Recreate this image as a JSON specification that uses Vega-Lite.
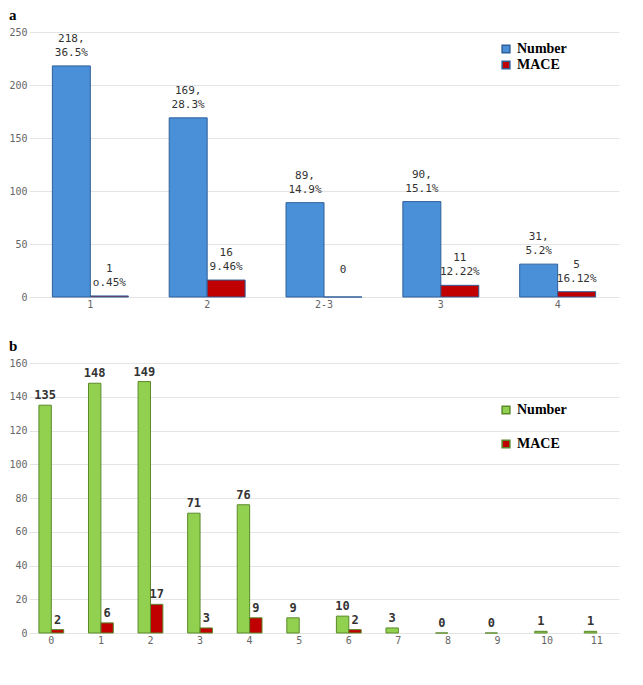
{
  "$schema": "https://vega.github.io/schema/vega-lite/v6.json",
  "background": "white",
  "padding": 8,
  "config": {
    "view": {"stroke": null},
    "axis": {"labelFont": "DejaVu Sans Mono", "labelColor": "#666", "labelFontSize": 10, "title": null, "domain": false, "ticks": false},
    "axisY": {"gridColor": "#e4e4e4"},
    "legend": {"labelFont": "Liberation Serif", "labelFontSize": 14, "labelFontWeight": "bold", "title": null, "symbolType": "square", "symbolSize": 60},
    "title": {"font": "Liberation Serif", "fontSize": 15, "fontWeight": "bold", "anchor": "start", "offset": 4},
    "concat": {"spacing": 30}
  },
  "vconcat": [
    {
      "title": "a",
      "width": 590,
      "height": 265,
      "data": {"values": [
        {"cat": "1", "series": "Number", "value": 218, "label": "218,\n36.5%"},
        {"cat": "1", "series": "MACE", "value": 1, "label": "1\no.45%"},
        {"cat": "2", "series": "Number", "value": 169, "label": "169,\n28.3%"},
        {"cat": "2", "series": "MACE", "value": 16, "label": "16\n9.46%"},
        {"cat": "2-3", "series": "Number", "value": 89, "label": "89,\n14.9%"},
        {"cat": "2-3", "series": "MACE", "value": 0, "label": "0"},
        {"cat": "3", "series": "Number", "value": 90, "label": "90,\n15.1%"},
        {"cat": "3", "series": "MACE", "value": 11, "label": "11\n12.22%"},
        {"cat": "4", "series": "Number", "value": 31, "label": "31,\n5.2%"},
        {"cat": "4", "series": "MACE", "value": 5, "label": "5\n16.12%"}
      ]},
      "encoding": {
        "x": {"field": "cat", "type": "nominal", "sort": null, "axis": {"labelAngle": 0}, "scale": {"paddingInner": 0.35, "paddingOuter": 0.2}},
        "xOffset": {"field": "series", "sort": ["Number", "MACE"]},
        "y": {"field": "value", "type": "quantitative", "scale": {"domain": [0, 250]}, "axis": {"values": [0, 50, 100, 150, 200, 250]}}
      },
      "layer": [
        {
          "mark": {"type": "bar", "stroke": "#2f5f99", "strokeWidth": 1},
          "encoding": {
            "color": {"field": "series", "type": "nominal", "sort": ["Number", "MACE"],
              "scale": {"domain": ["Number", "MACE"], "range": ["#4a90d9", "#c00000"]},
              "legend": {"orient": "none", "legendX": 470, "legendY": 10}}
          }
        },
        {
          "mark": {"type": "text", "font": "DejaVu Sans Mono", "fontSize": 11, "lineBreak": "\n", "lineHeight": 14, "baseline": "alphabetic", "dy": -24, "color": "#333"},
          "encoding": {"text": {"field": "label"}}
        }
      ]
    },
    {
      "title": "b",
      "width": 590,
      "height": 270,
      "data": {"values": [
        {"cat": "0", "series": "Number", "value": 135}, {"cat": "0", "series": "MACE", "value": 2},
        {"cat": "1", "series": "Number", "value": 148}, {"cat": "1", "series": "MACE", "value": 6},
        {"cat": "2", "series": "Number", "value": 149}, {"cat": "2", "series": "MACE", "value": 17},
        {"cat": "3", "series": "Number", "value": 71}, {"cat": "3", "series": "MACE", "value": 3},
        {"cat": "4", "series": "Number", "value": 76}, {"cat": "4", "series": "MACE", "value": 9},
        {"cat": "5", "series": "Number", "value": 9},
        {"cat": "6", "series": "Number", "value": 10}, {"cat": "6", "series": "MACE", "value": 2},
        {"cat": "7", "series": "Number", "value": 3},
        {"cat": "8", "series": "Number", "value": 0},
        {"cat": "9", "series": "Number", "value": 0},
        {"cat": "10", "series": "Number", "value": 1},
        {"cat": "11", "series": "Number", "value": 1}
      ]},
      "encoding": {
        "x": {"field": "cat", "type": "nominal", "sort": null, "axis": {"labelAngle": 0}, "scale": {"paddingInner": 0.5, "paddingOuter": 0.2}},
        "xOffset": {"field": "series", "sort": ["Number", "MACE"], "scale": {"domain": ["Number", "MACE"]}},
        "y": {"field": "value", "type": "quantitative", "scale": {"domain": [0, 160]}, "axis": {"values": [0, 20, 40, 60, 80, 100, 120, 140, 160]}}
      },
      "layer": [
        {
          "mark": {"type": "bar", "stroke": "#5a8a2a", "strokeWidth": 1},
          "encoding": {
            "color": {"field": "series", "type": "nominal", "sort": ["Number", "MACE"],
              "scale": {"domain": ["Number", "MACE"], "range": ["#92d050", "#c00000"]},
              "legend": {"orient": "none", "legendX": 470, "legendY": 40, "rowPadding": 20}}
          }
        },
        {
          "mark": {"type": "text", "font": "DejaVu Sans Mono", "fontSize": 12, "fontWeight": "bold", "baseline": "bottom", "dy": -3, "color": "#333"},
          "encoding": {"text": {"field": "value"}}
        }
      ]
    }
  ],
  "resolve": {"scale": {"color": "independent", "x": "independent", "xOffset": "independent"}}
}
